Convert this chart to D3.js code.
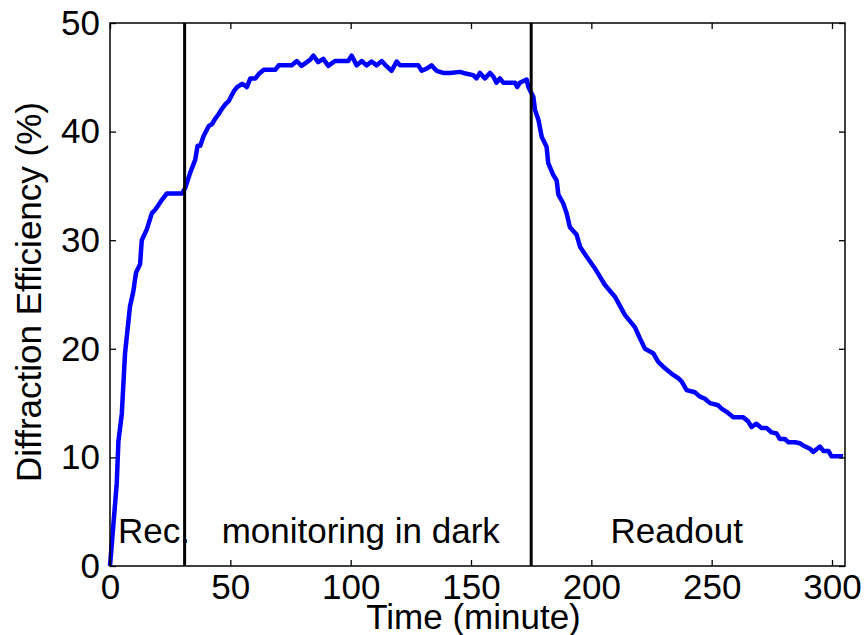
<!doctype html>
<html lang="en">
<head>
<meta charset="UTF-8" />
<title>Diffraction efficiency vs time</title>
<script src="https://cdn.jsdelivr.net/npm/d3@7"></script>
<style>
  body { margin: 0; background: #fff; }
  svg text { font-family: "Liberation Sans", Arial, Helvetica, sans-serif; fill: #000; }
</style>
</head>
<body>
<svg id="chart" width="864" height="635"></svg>
<script>
// time in minutes, diffraction efficiency in %
var timeMin = [0, 2.8, 3.5, 4.9, 6.25, 8.3, 9.7, 10.8, 12.5, 13.2, 15.3, 17.4, 18.75, 20, 21.5, 23.6, 29.9,
  31.25, 33.3, 35.4, 36.4, 37.5, 38.9, 41, 42.4, 43.75, 45.1, 46.5, 47.9, 49.3, 51.4, 52.8, 54.9, 56.25, 56.9,
  58.3, 60.4, 61.8, 63.9, 68.75, 70.1, 75.5, 77.6, 79.6, 83.1, 84.5, 86.5, 88.6, 90.7, 93.5, 99, 100.4, 102.5,
  104.6, 106.6, 108.7, 110.8, 112.9, 115, 117, 119.1, 120.5, 128.1, 129.5, 131.6, 133.6, 135.7, 138.5, 141.3,
  145.4, 146.8, 150.9, 152.3, 153.7, 155.8, 157.9, 159.2, 160.6, 162, 163.4, 168.3, 169.2, 170.3, 173.1, 173.8,
  174.5, 175.9, 176.6, 178, 179.4, 181.4, 182.1, 184.2, 185.6, 186.3, 188.3, 189.7, 191.1, 193.9, 195.3, 198,
  201.5, 205.6, 209.8, 214, 218.1, 220.2, 222.3, 225.7, 227.8, 230.6, 233.4, 236.1, 237.5, 239.6, 243, 245.1,
  247.2, 249.3, 252.7, 254.1, 256.2, 259, 263.1, 265.2, 266.6, 268.6, 270.7, 272.8, 274.9, 277, 278.3, 280.4,
  281.8, 284.6, 286.7, 288, 290.8, 292.2, 295, 296.4, 298.5, 299.8, 304.6];
var efficiency = [0, 7.6, 11.5, 14, 19.6, 23.9, 25.3, 27, 27.8, 30, 31, 32.5, 32.8, 33.2, 33.7, 34.3, 34.3,
  34.8, 36.2, 37.4, 38.7, 38.7, 39.6, 40.5, 40.7, 41.2, 41.6, 42.1, 42.5, 42.8, 43.7, 44.1, 44.4, 44.2, 44.1,
  44.9, 44.9, 45.3, 45.7, 45.7, 46.1, 46.1, 46.5, 46.05, 46.6, 47.0, 46.4, 46.7, 46.05, 46.5, 46.5, 47.0, 46.1,
  46.5, 46.1, 46.45, 46.1, 46.5, 46.0, 45.6, 46.45, 46.1, 46.1, 45.6, 45.8, 46.1, 45.6, 45.4, 45.4,
  45.5, 45.4, 45.2, 44.9, 45.4, 44.9, 45.4, 45.1, 44.5, 44.9, 44.5, 44.5, 44.1, 44.5, 44.8, 44.15,
  43.8, 43.2, 42.0, 41.1, 39.5, 38.6, 37.1, 36.0, 35.5, 34.2, 33.4, 32.5, 31.2, 30.5, 29.4, 28.5,
  27.4, 25.9, 24.8, 23.1, 22.0, 20.96, 20.0, 19.6, 18.8, 18.2, 17.7, 17.3, 17.0, 16.2, 16.0, 15.6,
  15.4, 15.0, 14.8, 14.5, 14.2, 13.7, 13.7, 13.3, 12.8, 13.1, 12.7, 12.7, 12.3, 12.2, 11.7, 11.7,
  11.4, 11.4, 11.3, 11.1, 10.8, 10.5, 11.0, 10.6, 10.6, 10.1, 10.1];

var phaseBounds = [31, 175];
var phaseLabels = ["Rec.", "monitoring in dark", "Readout"];
var phaseLabelTime = [3.3, 46.4, 208];
var xTicks = [0, 50, 100, 150, 200, 250, 300];
var yTicks = [0, 10, 20, 30, 40, 50];

var svg = d3.select("#chart");
var margin = {left: 110, top: 23, right: 19, bottom: 69};
var w = 864 - margin.left - margin.right;
var h = 635 - margin.top - margin.bottom;

var x = d3.scaleLinear().domain([0, 305.4]).range([0, w]);
var y = d3.scaleLinear().domain([0, 50]).range([h, 0]);

var g = svg.append("g").attr("transform", "translate(" + margin.left + "," + margin.top + ")");

var data = timeMin.map(function(t, i) { return {t: t, v: efficiency[i]}; });

var line = d3.line().x(d => x(d.t)).y(d => y(d.v));

g.append("path")
  .datum(data)
  .attr("d", line)
  .attr("fill", "none")
  .attr("stroke", "#0000ff")
  .attr("stroke-width", 4.5)
  .attr("stroke-linejoin", "round");

// phase separators
g.selectAll(".sep")
  .data(phaseBounds)
  .enter().append("line")
  .attr("x1", d => x(d)).attr("x2", d => x(d))
  .attr("y1", 0).attr("y2", h)
  .attr("stroke", "#000")
  .attr("stroke-width", 3);

g.selectAll(".phase")
  .data(phaseLabels)
  .enter().append("text")
  .attr("x", (d, i) => x(phaseLabelTime[i]))
  .attr("y", y(2.1))
  .attr("font-size", 35)
  .text(d => d);

// axes (MATLAB style box, ticks inward)
function styleAxis(sel) {
  sel.select(".domain").remove();
  sel.selectAll(".tick line").attr("stroke", "#000").attr("stroke-width", 1.3);
  sel.selectAll(".tick text").attr("font-size", 35).attr("font-family", "Liberation Sans, Arial, sans-serif");
}

g.append("g").attr("transform", "translate(0," + h + ")")
  .call(d3.axisBottom(x).tickValues(xTicks).tickSize(-6).tickPadding(8))
  .call(styleAxis);
g.append("g")
  .call(d3.axisTop(x).tickValues(xTicks).tickSize(-6).tickFormat(""))
  .call(styleAxis);
g.append("g")
  .call(d3.axisLeft(y).tickValues(yTicks).tickSize(-6).tickPadding(10))
  .call(styleAxis);
g.append("g").attr("transform", "translate(" + w + ",0)")
  .call(d3.axisRight(y).tickValues(yTicks).tickSize(-6).tickFormat(""))
  .call(styleAxis);

g.append("rect")
  .attr("width", w).attr("height", h)
  .attr("fill", "none")
  .attr("stroke", "#000")
  .attr("stroke-width", 1.5);

svg.append("text")
  .attr("x", margin.left + w / 2 - 4)
  .attr("y", 629)
  .attr("text-anchor", "middle")
  .attr("font-size", 35)
  .text("Time (minute)");

svg.append("text")
  .attr("transform", "translate(41,292) rotate(-90)")
  .attr("text-anchor", "middle")
  .attr("font-size", 35)
  .text("Diffraction Efficiency (%)");
</script>
</body>
</html>
